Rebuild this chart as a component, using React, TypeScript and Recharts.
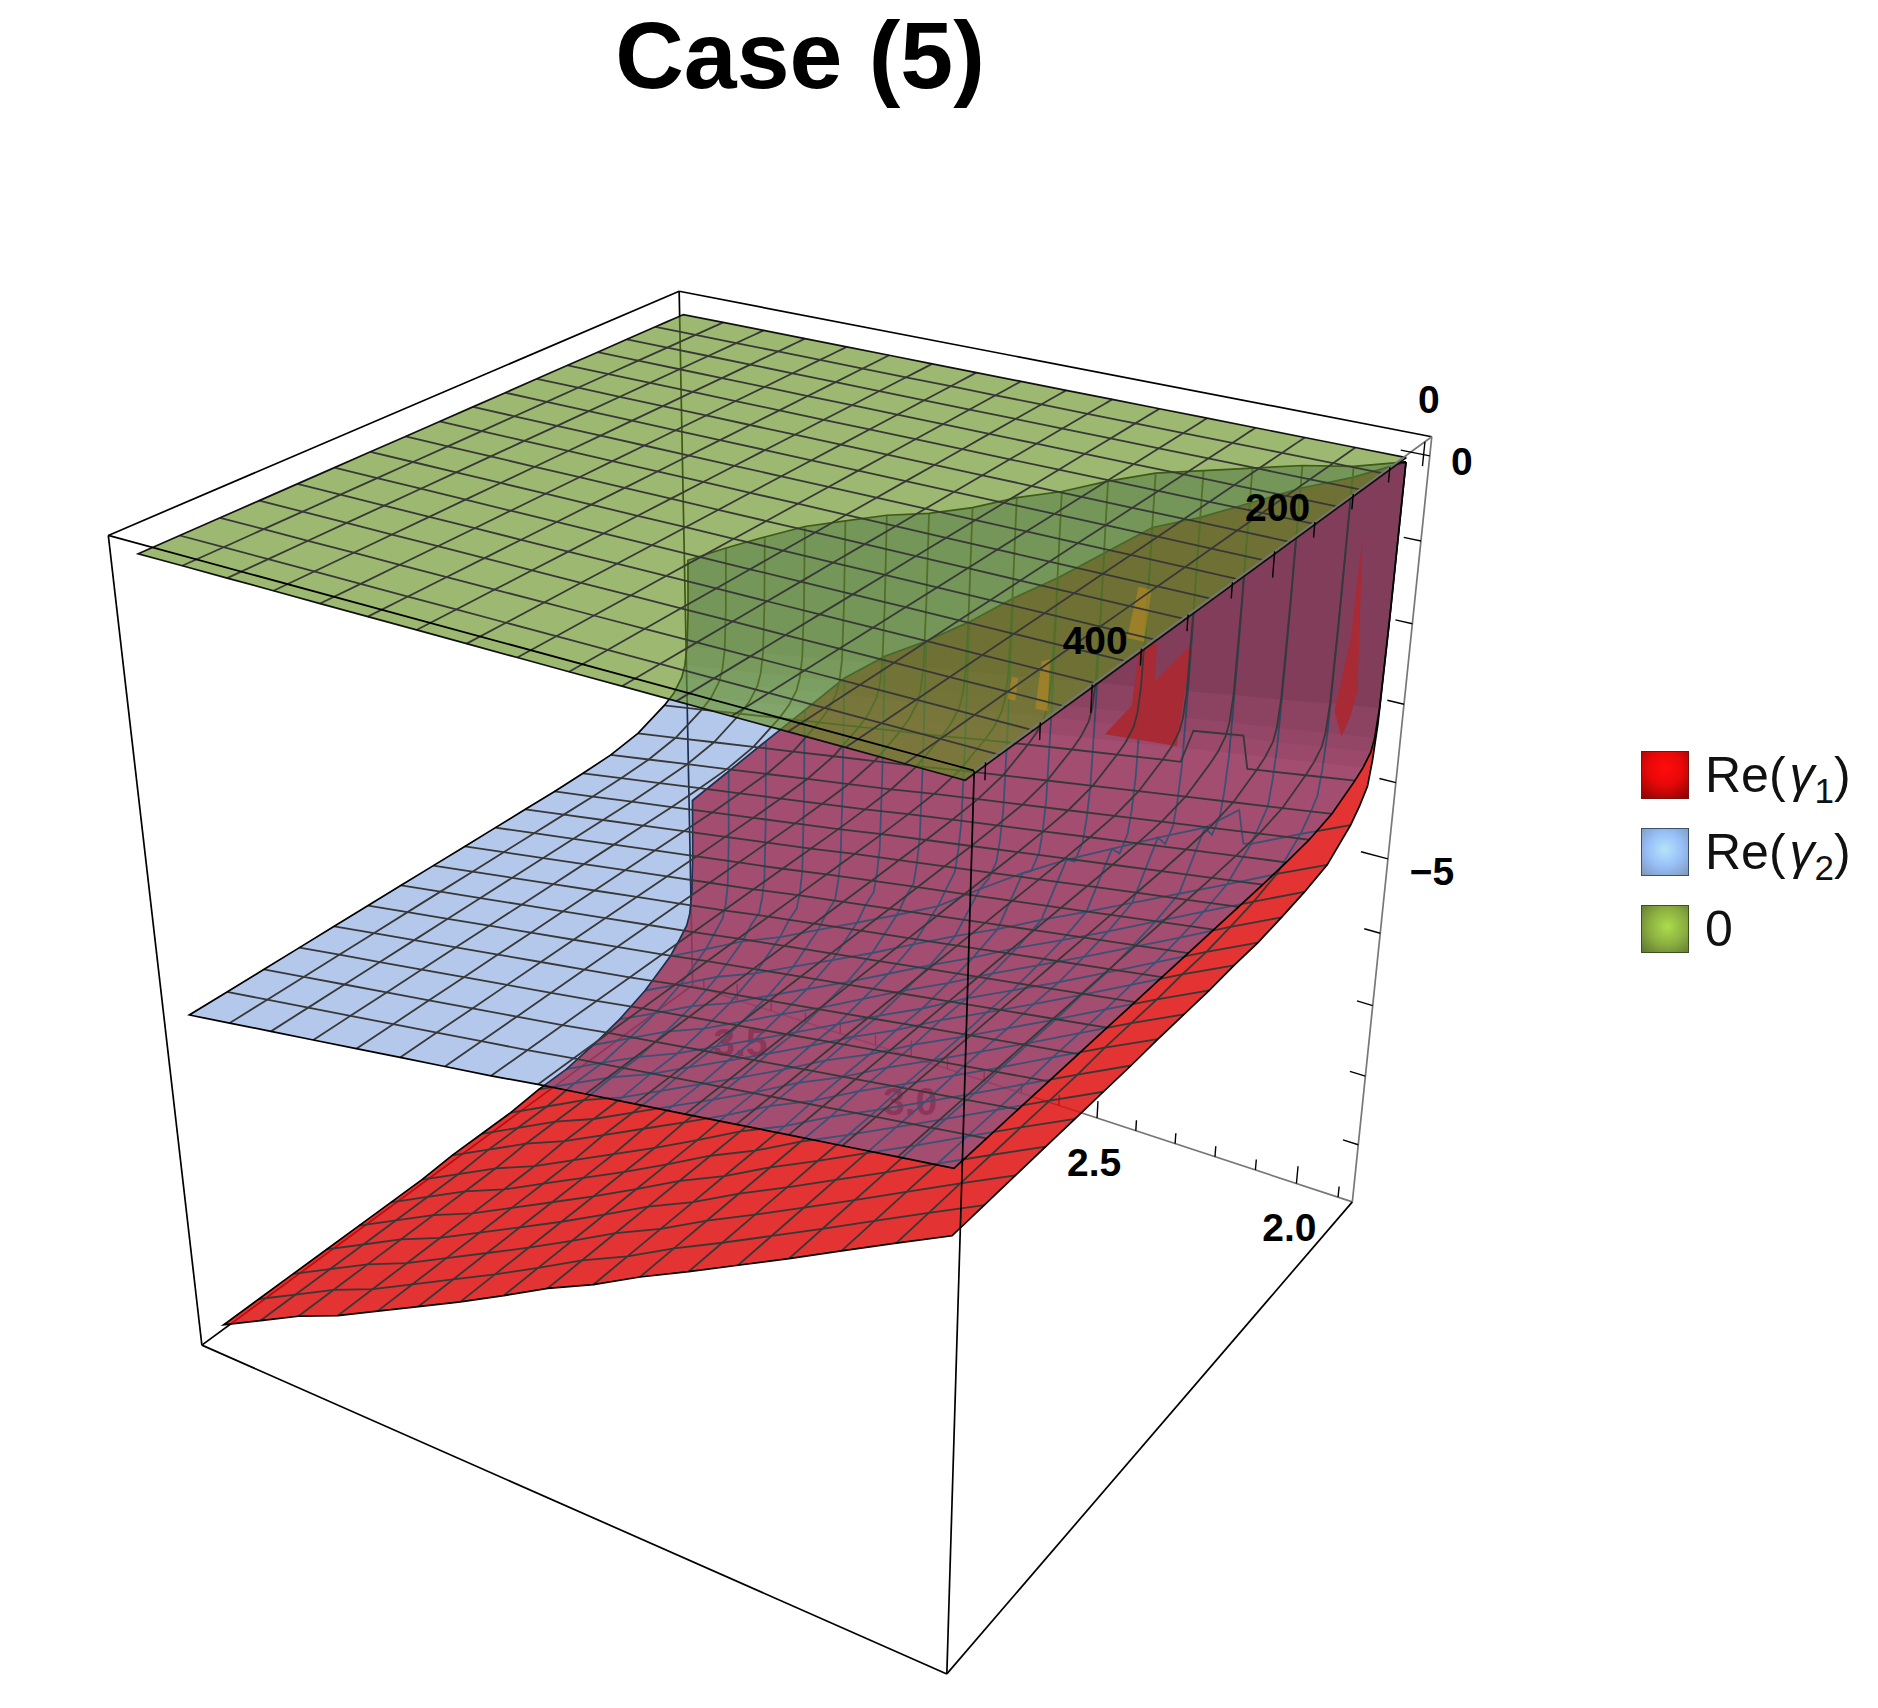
import { ScatterChart, Scatter, XAxis, YAxis } from "recharts";

// grid of the three surfaces
const xs = [1.9, 2.006, 2.113, 2.219, 2.325, 2.431, 2.538, 2.644, 2.75, 2.856, 2.963, 3.069, 3.175, 3.281, 3.388, 3.494, 3.6];
const ys = [0, 1, 3, 6, 10, 20, 31.25, 62.5, 93.75, 125, 156.25, 187.5, 218.75, 250, 281.25, 312.5, 343.75, 375, 406.25, 437.5, 468.75, 500];
const meshYs = [31.25, 62.5, 93.75, 125, 156.25, 187.5, 218.75, 250, 281.25, 312.5, 343.75, 375, 406.25, 437.5, 468.75];

const redFar = [-4.72, -5.03, -5.35, -5.67, -5.98, -6.29, -6.59, -6.92, -7.2, -7.53, -7.85, -8.15, -8.45, -8.75, -9.0, -9.3, -9.6];
const redMid = [-4.71, -5.01, -5.33, -5.65, -5.96, -6.27, -6.57, -6.9, -7.18, -7.51, -7.82, -8.12, -8.42, -8.72, -8.97, -9.27, -9.57];
const redNear = [-4.69, -4.99, -5.31, -5.63, -5.94, -6.24, -6.54, -6.87, -7.16, -7.48, -7.79, -8.09, -8.39, -8.69, -8.94, -9.23, -9.53];
const redZ = [
  [-0.05, -0.35, -0.6, -0.9, -1.2, -1.45, -1.9, -2.35, -2.75, -3.2, -3.6, -3.95, -4.4, -5.0, -5.6, -6.2, -6.8],
  [-1.94, -2.23, -2.52, -2.8, -3.1, -3.37, -3.73, -4.11, -4.46, -4.85, -5.23, -5.58, -5.96, -6.41, -6.82, -7.23, -7.64],
  [-3.2, -3.49, -3.8, -4.07, -4.36, -4.65, -4.95, -5.29, -5.6, -5.95, -6.32, -6.66, -7.0, -7.35, -7.63, -7.91, -8.2],
  [-3.64, -3.93, -4.22, -4.51, -4.8, -5.09, -5.38, -5.71, -6.0, -6.33, -6.68, -6.99, -7.31, -7.64, -7.9, -8.19, -8.5],
  [-3.94, -4.23, -4.53, -4.82, -5.11, -5.39, -5.68, -6.0, -6.29, -6.61, -6.95, -7.25, -7.55, -7.85, -8.1, -8.36, -8.65],
  [-4.12, -4.4, -4.69, -4.99, -5.28, -5.58, -5.86, -6.17, -6.45, -6.75, -7.06, -7.35, -7.64, -7.94, -8.19, -8.5, -8.8],
  [-4.27, -4.55, -4.85, -4.8, -5.1, -5.42, -5.74, -6.1, -6.5, -6.92, -7.23, -7.52, -7.81, -8.1, -8.35, -8.65, -8.95],
  [-4.52, -4.81, -5.12, -5.42, -5.72, -6.02, -6.31, -6.62, -6.9, -7.2, -7.51, -7.8, -8.08, -8.37, -8.61, -8.91, -9.2],
  [-4.6, -4.9, -5.21, -5.52, -5.83, -6.13, -6.42, -6.74, -7.03, -7.34, -7.65, -7.94, -8.23, -8.53, -8.77, -9.07, -9.36],
  [-4.65, -4.95, -5.27, -5.58, -5.89, -6.19, -6.49, -6.81, -7.1, -7.41, -7.73, -8.02, -8.32, -8.62, -8.86, -9.16, -9.46],
  redNear, redNear, redMid, redMid, redMid,
  redFar, redFar, redFar, redFar, redFar, redFar, redFar,
];

const blueFar = [-3.97, -4.06, -4.15, -4.24, -4.33, -4.42, -4.51, -4.6, -4.69, -4.79, -4.88, -4.97, -5.06, -5.15, -5.24, -5.33, -5.42];
const blueZ = [
  [-0.05, -0.22, -0.33, -0.48, -0.63, -0.78, -1.0, -1.25, -1.45, -1.7, -1.9, -2.05, -2.25, -2.45, -2.72, -3.0, -3.3],
  [-1.82, -1.94, -2.05, -2.16, -2.28, -2.39, -2.54, -2.7, -2.83, -2.99, -3.12, -3.24, -3.38, -3.51, -3.68, -3.85, -4.02],
  [-3.0, -3.09, -3.19, -3.28, -3.38, -3.47, -3.56, -3.66, -3.75, -3.85, -3.94, -4.03, -4.13, -4.22, -4.32, -4.41, -4.5],
  [-3.35, -3.44, -3.53, -3.61, -3.7, -3.79, -3.88, -3.96, -4.05, -4.14, -4.23, -4.31, -4.4, -4.49, -4.58, -4.66, -4.75],
  [-3.5, -3.59, -3.68, -3.76, -3.85, -3.94, -4.03, -4.11, -4.2, -4.29, -4.38, -4.46, -4.55, -4.64, -4.73, -4.81, -4.9],
  [-3.62, -3.71, -3.8, -3.89, -3.98, -4.07, -4.16, -4.25, -4.34, -4.43, -4.52, -4.61, -4.7, -4.79, -4.88, -4.97, -5.06],
  [-3.7, -3.79, -3.88, -3.97, -4.06, -4.15, -4.24, -4.33, -4.42, -4.52, -4.61, -4.7, -4.79, -4.88, -4.97, -5.06, -5.15],
  [-3.87, -3.96, -4.05, -4.14, -4.23, -4.32, -4.41, -4.5, -4.59, -4.69, -4.78, -4.87, -4.96, -5.05, -5.14, -5.23, -5.32],
  [-3.94, -4.03, -4.12, -4.21, -4.3, -4.39, -4.48, -4.57, -4.66, -4.76, -4.85, -4.94, -5.03, -5.12, -5.21, -5.3, -5.39],
  [-3.96, -4.05, -4.14, -4.23, -4.32, -4.41, -4.5, -4.59, -4.68, -4.78, -4.87, -4.96, -5.05, -5.14, -5.23, -5.32, -5.41],
  blueFar, blueFar, blueFar, blueFar, blueFar, blueFar, blueFar, blueFar, blueFar, blueFar, blueFar, blueFar,
];

const greenZ = ys.map(() => xs.map(() => 0));

// sharp steps in the first mesh line of each surface: x, z
const blueKinks = [[2.134, -3.9], [2.148, -3.49], [2.26, -3.59], [2.284, -4.03]];
const redKinks = [[2.13, -4.87], [2.145, -4.45]];

// places where the red wall comes through the blue one: x, z, on the row y = 3
const redPatches = [
  [[2.51, -4.21], [2.45, -3.74], [2.44, -2.95], [2.4, -2.87], [2.4, -3.36], [2.32, -2.76], [2.34, -4.12]],
  [[1.97, -1.0], [1.95, -2.85], [1.96, -3.19], [1.975, -3.47], [1.995, -3.17], [1.975, -2.25]],
];
const orangePatches = [
  [[2.68, -4.11], [2.67, -3.46], [2.65, -3.4], [2.65, -4.1]],
  [[2.75, -4.07], [2.74, -3.76], [2.725, -3.76], [2.73, -4.07]],
  [[2.47, -2.88], [2.45, -2.2], [2.42, -2.2], [2.43, -2.88]],
];

const xTickValues = [1.9, 2.0, 2.1, 2.2, 2.3, 2.4, 2.5, 2.6, 2.7, 2.8, 2.9, 3.0, 3.1, 3.2, 3.3, 3.4, 3.5, 3.6];
const xMajor = [2.0, 2.5, 3.0, 3.5];
const yTickValues = [0, 50, 100, 150, 200, 250, 300, 350, 400, 450, 500];
const yMajor = [0, 200, 400];
const zTickValues = [0, -1, -2, -3, -4, -5, -6, -7, -8, -9];
const zMajor = [0, -5];

const X0 = 1.866, X1 = 3.634, Y0 = -10, Y1 = 510, Z0 = -9.85, Z1 = 0.22;

const legendItems = [
  { name: "Re", sub: "1", swatch: "radial-gradient(circle at 50% 35%, #ff0c0c 0%, #e80808 45%, #8a0404 100%)", edge: "#7a1010" },
  { name: "Re", sub: "2", swatch: "radial-gradient(circle at 50% 45%, #b4e4f8 0%, #98c0f8 50%, #7f96b8 100%)", edge: "#3c5070" },
  { name: "0", sub: "", swatch: "radial-gradient(circle at 55% 45%, #acdc4c 0%, #8cb040 50%, #5c7434 100%)", edge: "#3c5020" },
];

// box corners in the picture: u along x, v along y, w along z, then screen x and y
const boxCorners = [
  [0, 0, 0, 1352, 1202],
  [0, 0, 1, 1432, 437],
  [0, 1, 0, 948, 1674],
  [0, 1, 1, 973, 770],
  [1, 1, 0, 202, 1345],
  [1, 1, 1, 108, 536],
  [1, 0, 1, 680, 291],
  [1, 0, 0, 692, 985],
];

function solveCamera() {
  const rows: number[][] = [];
  const rhs: number[] = [];
  boxCorners.forEach(([u, v, w, sx, sy]) => {
    rows.push([u, v, w, 1, 0, 0, 0, 0, -u * sx, -v * sx, -w * sx]);
    rhs.push(sx);
    rows.push([0, 0, 0, 0, u, v, w, 1, -u * sy, -v * sy, -w * sy]);
    rhs.push(sy);
  });
  const n = 11;
  const m = Array.from({ length: n }, (_, i) => {
    const line = Array.from({ length: n }, (_, j) => rows.reduce((s, r) => s + r[i] * r[j], 0));
    line.push(rows.reduce((s, r, k) => s + r[i] * rhs[k], 0));
    return line;
  });
  for (let c = 0; c < n; c++) {
    let best = c;
    for (let r = c + 1; r < n; r++) if (Math.abs(m[r][c]) > Math.abs(m[best][c])) best = r;
    [m[c], m[best]] = [m[best], m[c]];
    for (let r = 0; r < n; r++) {
      if (r === c) continue;
      const f = m[r][c] / m[c][c];
      for (let k = c; k <= n; k++) m[r][k] -= f * m[c][k];
    }
  }
  return m.map((line, i) => line[n] / line[i]);
}

const cam = solveCamera();

function project(x: number, y: number, z: number) {
  const u = (x - X0) / (X1 - X0);
  const v = (y - Y0) / (Y1 - Y0);
  const w = (z - Z0) / (Z1 - Z0);
  const d = cam[8] * u + cam[9] * v + cam[10] * w + 1;
  return {
    sx: (cam[0] * u + cam[1] * v + cam[2] * w + cam[3]) / d,
    sy: (cam[4] * u + cam[5] * v + cam[6] * w + cam[7]) / d,
  };
}

const NoDot = () => <g />;

function path(key: string, pts: { sx: number; sy: number }[], style: any) {
  return <Scatter key={key} data={pts} line={style} shape={NoDot} isAnimationActive={false} legendType="none" />;
}

const edge = (key: string, a: number[], b: number[], stroke = "#000", strokeWidth = 1.7) =>
  path(key, [project(a[0], a[1], a[2]), project(b[0], b[1], b[2])], { stroke, strokeWidth, fill: "none" });

const patch = (key: string, pts: number[][], fill: string, fillOpacity: number) =>
  path(key, pts.map(([x, z]) => project(x, 3, z)), { fill, fillOpacity, stroke: "none" });

function surface(id: string, zs: number[][], fill: string, fillOpacity: number, edgeColor: string, overlay: any[] = [], kinks: number[][] = []) {
  const at = (i: number, j: number) => project(xs[j], ys[i], zs[i][j]);
  const last = ys.length - 1;
  const outline = [
    ...xs.map((_, j) => at(0, j)),
    ...ys.map((_, i) => at(i, xs.length - 1)),
    ...xs.map((_, j) => at(last, xs.length - 1 - j)),
    ...ys.map((_, i) => at(last - i, 0)),
  ];
  const meshStyle = { stroke: "#383838", strokeWidth: 1.8, fill: "none" };
  const yLine = (yv: number) => {
    const i = ys.indexOf(yv);
    let pts = xs.map((x, j) => [x, zs[i][j]]);
    if (yv === meshYs[0] && kinks.length) {
      // grid points inside a step are replaced by the step itself
      const from = kinks[0][0];
      const to = kinks[kinks.length - 1][0];
      pts = [...pts.filter(([x]) => x < from || x > to), ...kinks];
    }
    return pts.sort((a, b) => a[0] - b[0]).map(([x, z]) => project(x, yv, z));
  };
  return [
    path(id + "-fill", outline, { fill, fillOpacity, stroke: "none" }),
    ...overlay,
    ...meshYs.map((yv) => path(id + "-y" + yv, yLine(yv), meshStyle)),
    ...xs.slice(1, -1).map((xv, n) => path(id + "-x" + xv, ys.map((_, i) => at(i, n + 1)), meshStyle)),
    path(id + "-edge", outline, { stroke: edgeColor, strokeWidth: 1.7, fill: "none" }),
  ];
}

// darker band on the steep part of the blue wall, between two rows of the table
function wallShade(key: string, rowA: number, rowB: number, fillOpacity: number) {
  const pts = [
    ...xs.map((x, j) => project(x, ys[rowA], blueZ[rowA][j])),
    ...xs.map((x, j) => project(x, ys[rowB], blueZ[rowB][j])).reverse(),
  ];
  return path(key, pts, { fill: "#000", fillOpacity, stroke: "none" });
}

const xTicks = xTickValues.map((t) =>
  edge("xt" + t, [t, Y0, Z0], [t, Y0, Z0 + (xMajor.includes(t) ? 0.26 : 0.16)], "#000", 1.4));
const yTicks = yTickValues.map((t) =>
  edge("yt" + t, [X0, t, Z1], [X0, t, Z1 - (yMajor.includes(t) ? 0.28 : 0.17)], "#000", 1.4));
const zTicks = zTickValues.map((t) =>
  edge("zt" + t, [X0, Y0, t], [X0 + (zMajor.includes(t) ? 0.06 : 0.036), Y0, t], "#000", 1.4));

const axisLabels = [
  { text: "2.0", at: [2.0, Y0, Z0], dx: -7, dy: 58 },
  { text: "2.5", at: [2.5, Y0, Z0], dx: -3, dy: 58 },
  { text: "3.0", at: [3.0, Y0, Z0], dx: -1, dy: 58 },
  { text: "3.5", at: [3.5, Y0, Z0], dx: 3, dy: 56 },
];
const frontLabels = [
  { text: "0", at: [X0, 0, Z1], dx: 37, dy: 33 },
  { text: "200", at: [X0, 200, Z1], dx: 3, dy: -30 },
  { text: "400", at: [X0, 400, Z1], dx: 3, dy: -31 },
  { text: "0", at: [X0, Y0, 0], dx: -1, dy: -43 },
  { text: "\u22125", at: [X0, Y0, -5], dx: 44, dy: 26 },
];

const labelShape = (props: any) => (
  <text
    x={props.cx + props.payload.dx}
    y={props.cy + props.payload.dy}
    textAnchor="middle"
    fontFamily="Liberation Sans"
    fontWeight="bold"
    fontSize={39}
    fill="#000"
  >
    {props.payload.text}
  </text>
);

function labels(key: string, items: typeof axisLabels) {
  const data = items.map((l) => ({ ...l, ...project(l.at[0], l.at[1], l.at[2]) }));
  return <Scatter key={key} data={data} shape={labelShape} isAnimationActive={false} legendType="none" />;
}

function LegendBox() {
  return (
    <div style={{ position: "absolute", left: 1641, top: 751, fontFamily: "Liberation Sans", fontSize: 50, color: "#111", lineHeight: "48px" }}>
      {legendItems.map((item) => (
        <div key={item.name + item.sub} style={{ display: "flex", alignItems: "center", height: 48, marginBottom: 29 }}>
          <div style={{ width: 48, height: 48, boxSizing: "border-box", border: "1px solid " + item.edge, background: item.swatch, marginRight: 16 }} />
          <span>
            {item.name}
            {item.sub && (
              <>
                (<i style={{ marginLeft: 4 }}>γ</i>
                <sub style={{ fontSize: 35, lineHeight: 0 }}>{item.sub}</sub>)
              </>
            )}
          </span>
        </div>
      ))}
    </div>
  );
}

const blueOverlay = [
  wallShade("shade-a", 0, 2, 0.2),
  wallShade("shade-b", 2, 3, 0.14),
  wallShade("shade-c", 3, 4, 0.09),
  wallShade("shade-d", 4, 5, 0.05),
  ...redPatches.map((p, i) => patch("red-patch" + i, p, "#A82A35", 1)),
];
const greenOverlay = orangePatches.map((p, i) => patch("orange-patch" + i, p, "#C08A20", 0.55));

export default function App() {
  return (
    <div style={{ position: "absolute", left: 0, top: 0, width: 1878, height: 1708 }}>
      <ScatterChart width={1878} height={1708} margin={{ top: 0, right: 0, bottom: 0, left: 0 }}>
        <XAxis type="number" dataKey="sx" domain={[0, 1878]} hide />
        <YAxis type="number" dataKey="sy" domain={[0, 1708]} reversed hide />

        {/* back of the box */}
        {edge("b1", [X1, Y0, Z1], [X1, Y0, Z0])}
        {edge("b2", [X1, Y0, Z0], [X1, Y1, Z0])}
        {edge("axis-x", [X0, Y0, Z0], [X1, Y0, Z0], "#777")}
        {xTicks}
        {labels("x-labels", axisLabels)}

        {surface("red", redZ, "rgb(222,15,14)", 0.85, "#000", [], redKinks)}
        {surface("blue", blueZ, "#4375CF", 0.4, "#000", blueOverlay, blueKinks)}
        {surface("green", greenZ, "#64901E", 0.63, "#111", greenOverlay)}

        {/* rest of the box, on top */}
        {edge("t1", [X1, Y1, Z1], [X1, Y0, Z1])}
        {edge("t2", [X1, Y0, Z1], [X0, Y0, Z1])}
        {edge("t3", [X1, Y1, Z1], [X0, Y1, Z1])}
        {edge("v1", [X1, Y1, Z1], [X1, Y1, Z0])}
        {edge("v2", [X0, Y1, Z1], [X0, Y1, Z0])}
        {edge("g1", [X1, Y1, Z0], [X0, Y1, Z0])}
        {edge("g2", [X0, Y1, Z0], [X0, Y0, Z0])}
        {edge("axis-y", [X0, Y0, Z1], [X0, Y1, Z1], "#777")}
        {edge("axis-z", [X0, Y0, Z1], [X0, Y0, Z0], "#777")}
        {yTicks}
        {zTicks}
        {labels("front-labels", frontLabels)}

        <text x={800} y={88} textAnchor="middle" fontFamily="Liberation Sans" fontWeight="bold" fontSize={95} fill="#000">
          Case (5)
        </text>
      </ScatterChart>
      <LegendBox />
    </div>
  );
}
